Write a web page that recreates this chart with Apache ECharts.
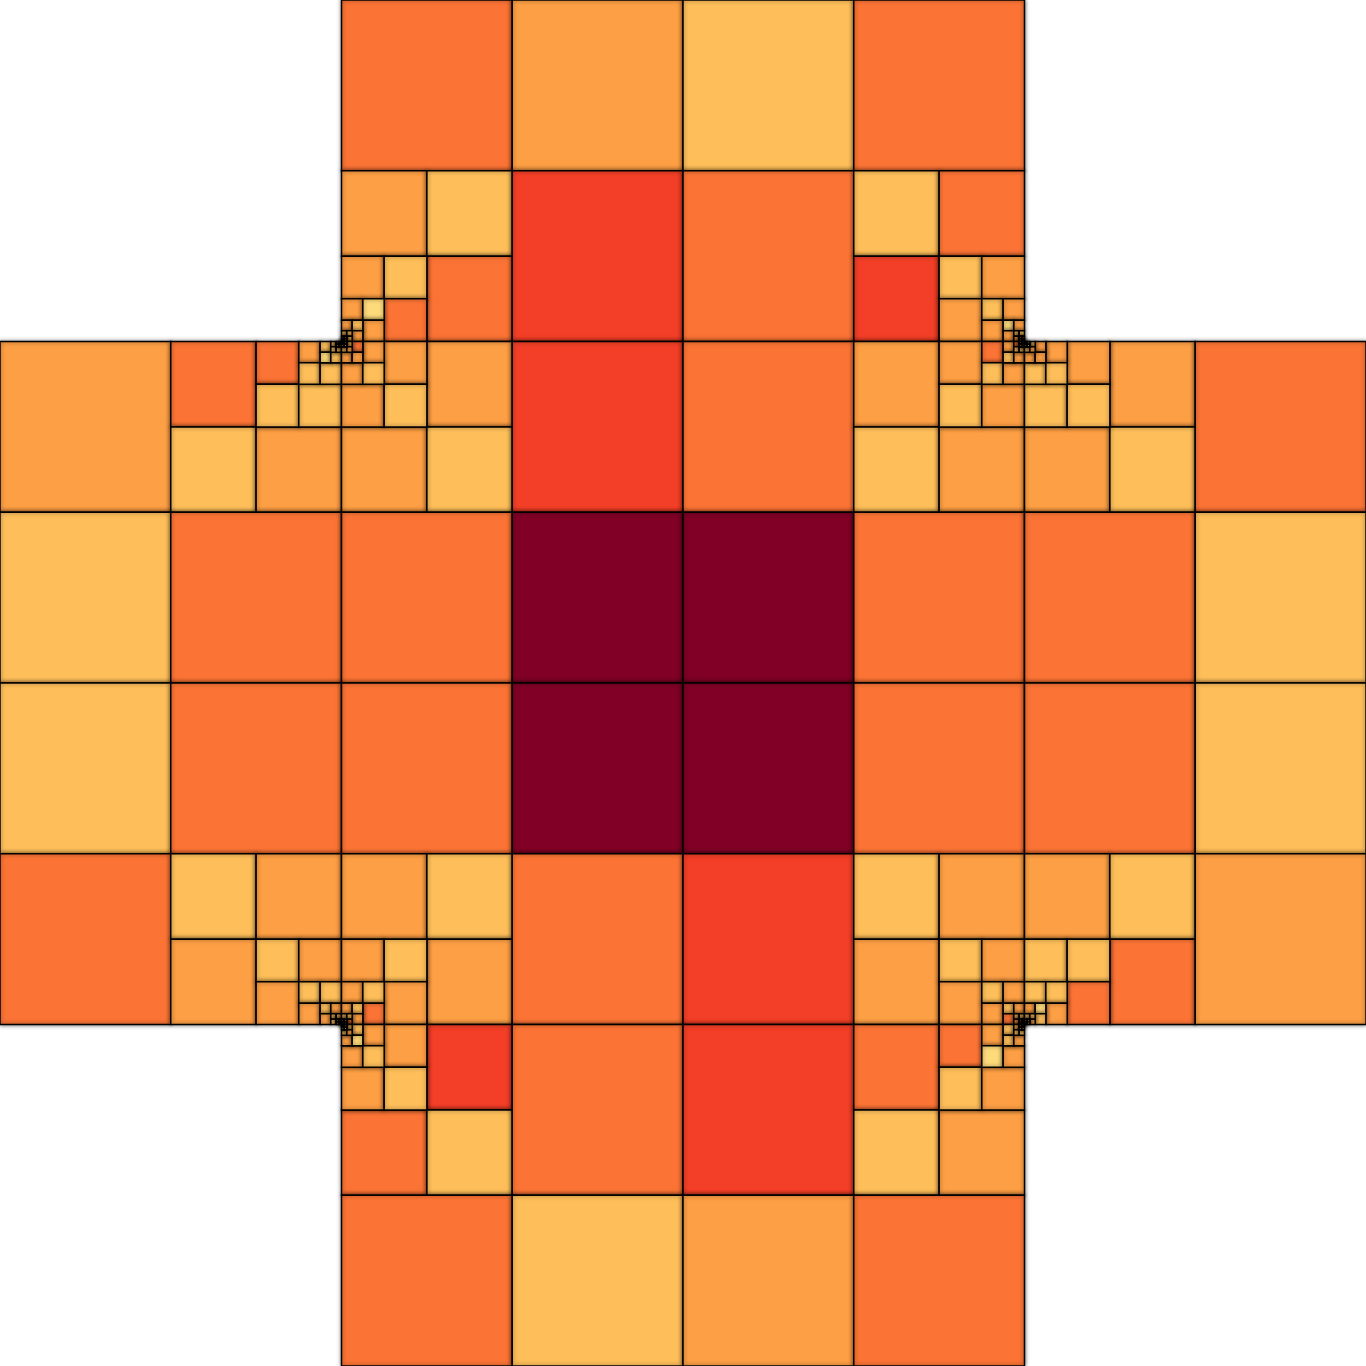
<!DOCTYPE html>
<html>
<head>
<meta charset="utf-8">
<script src="https://cdn.jsdelivr.net/npm/echarts@6/dist/echarts.min.js"></script>
<style>
  html, body { margin: 0; padding: 0; background: #fff; }
  #chart { width: 1366px; height: 1366px; }
</style>
</head>
<body>
<div id="chart"></div>
<script>
// Value classes: 1 pale, 2 yellow, 3 light orange, 4 orange, 5 red, 6 dark red
// Top-level 8x8 grid (null = empty, 0 = subdivided cell)
const row0 = [null, null, 4, 3, 2, 4, null, null];
const row1 = [null, null, 0, 5, 4, 0, null, null];
const row2 = [3, 0, 0, 5, 4, 0, 0, 4];
const row3 = [2, 4, 4, 6, 6, 4, 4, 2];
const row4 = [2, 4, 4, 6, 6, 4, 4, 2];
const row5 = [4, 0, 0, 4, 5, 0, 0, 3];
const row6 = [null, null, 0, 4, 5, 0, null, null];
const row7 = [null, null, 4, 2, 3, 4, null, null];

// Subdivided cells: per level, quadrant values [TL, TR, BL, BR]; null = quadrant subdivided further
const cell_2_1 = [[3,2,null,4],[3,2,null,4],[3,1,null,3],[3,2,null,3],[2,2,null,2],[2,3,null,2],[3,2,null,3],[2,2,2,2]];
const cell_1_2 = [[4,null,2,3],[4,null,2,2],[3,null,2,2],[2,null,1,2],[2,null,2,2],[3,null,2,2],[2,null,3,2],[2,2,2,2]];
const cell_2_2 = [[null,3,3,2],[null,3,3,2],[null,3,3,2],[null,4,3,3],[null,2,2,3],[null,2,3,2],[null,3,2,2],[2,2,2,2]];

const cell_5_1 = [[2,4,5,null],[2,3,3,null],[2,3,3,null],[1,3,3,null],[2,2,3,null],[2,3,2,null],[3,2,2,null],[2,2,2,2]];
const cell_6_2 = [[null,3,3,2],[null,3,2,2],[null,3,2,2],[null,3,3,3],[null,2,2,3],[null,2,3,2],[null,3,2,2],[2,2,2,2]];
const cell_5_2 = [[3,null,2,3],[3,null,2,3],[4,null,2,3],[3,null,2,3],[4,null,2,2],[2,null,3,2],[2,null,2,3],[2,2,2,2]];

const cell_1_5 = [[2,3,3,null],[2,3,3,null],[2,2,3,null],[2,3,3,null],[2,2,2,null],[3,2,2,null],[2,2,3,null],[2,2,2,2]];
const cell_2_5 = [[3,2,null,3],[3,2,null,3],[3,2,null,4],[3,2,null,3],[2,2,null,4],[2,3,null,2],[3,2,null,2],[2,2,2,2]];
const cell_2_6 = [[null,5,4,2],[null,3,3,2],[null,3,3,2],[null,2,3,1],[null,2,2,3],[null,3,2,2],[null,2,2,3],[2,2,2,2]];

const cell_5_5 = [[2,3,3,null],[2,3,3,null],[2,3,3,null],[2,3,4,null],[2,2,3,null],[2,3,2,null],[3,2,2,null],[2,2,2,2]];
const cell_6_5 = [[3,2,null,4],[2,2,null,4],[2,2,null,3],[3,1,null,2],[2,2,null,3],[2,3,null,2],[2,2,null,3],[2,2,2,2]];
const cell_5_6 = [[4,null,2,3],[4,null,2,3],[3,null,1,3],[2,null,2,3],[2,null,2,2],[3,null,2,2],[2,null,3,2],[2,2,2,2]];

const classColors = ['#fedb7a', '#febf5a', '#fd9f44', '#fc7435', '#f33f27', '#800026'];

const grid = [row0, row1, row2, row3, row4, row5, row6, row7];
const subCells = {
  '2,1': cell_2_1, '1,2': cell_1_2, '2,2': cell_2_2,
  '5,1': cell_5_1, '6,2': cell_6_2, '5,2': cell_5_2,
  '1,5': cell_1_5, '2,5': cell_2_5, '2,6': cell_2_6,
  '5,5': cell_5_5, '6,5': cell_6_5, '5,6': cell_5_6
};

// Quadtree layout -> [x, y, size, value]
const data = [];
grid.forEach(function (row, r) {
  row.forEach(function (v, c) {
    if (v === null) return;
    if (v !== 0) { data.push([c, r, 1, v]); return; }
    const levels = subCells[c + ',' + r];
    let x = c, y = r, s = 1;
    for (let li = 0; li < levels.length; li++) {
      s = s / 2;
      let nx = null, ny = null;
      levels[li].forEach(function (qv, q) {
        const qx = x + (q % 2) * s;
        const qy = y + Math.floor(q / 2) * s;
        if (qv === null) { nx = qx; ny = qy; }
        else data.push([qx, qy, s, qv]);
      });
      if (nx === null) break;
      x = nx; y = ny;
    }
  });
});

const chart = echarts.init(document.getElementById('chart'));
chart.setOption({
  animation: false,
  grid: { left: 0, right: 0, top: 0, bottom: 0 },
  xAxis: { type: 'value', min: 0, max: 8, show: false },
  yAxis: { type: 'value', min: 0, max: 8, inverse: true, show: false },
  visualMap: {
    type: 'piecewise',
    show: false,
    dimension: 3,
    pieces: classColors.map(function (col, i) { return { value: i + 1, color: col }; })
  },
  series: [{
    type: 'custom',
    coordinateSystem: 'cartesian2d',
    data: data,
    encode: { x: 0, y: 1 },
    renderItem: function (params, api) {
      const x = api.value(0), y = api.value(1), s = api.value(2);
      const p0 = api.coord([x, y]);
      const p1 = api.coord([x + s, y + s]);
      return {
        type: 'rect',
        shape: { x: p0[0], y: p0[1], width: p1[0] - p0[0], height: p1[1] - p0[1] },
        style: {
          fill: api.visual('color'),
          stroke: '#000',
          lineWidth: 1.5,
          shadowBlur: 4,
          shadowColor: 'rgba(0,0,0,0.5)'
        }
      };
    }
  }]
});
</script>
</body>
</html>
